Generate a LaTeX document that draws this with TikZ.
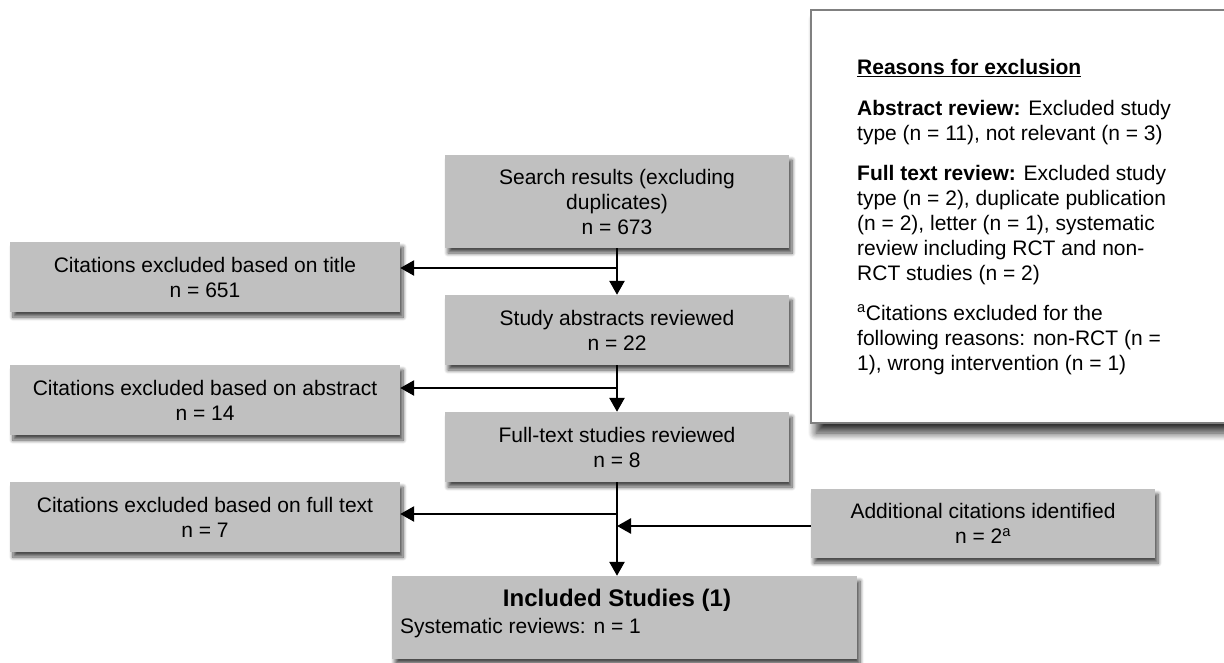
\documentclass[tikz,border=0pt]{standalone}
\usepackage{fontspec}
\setmainfont{Liberation Sans}
\usetikzlibrary{arrows.meta,shadows.blur}
\definecolor{boxgray}{RGB}{192,192,192}
\definecolor{bordergray}{RGB}{128,128,128}
\begin{document}
\begin{tikzpicture}[x=1pt,y=-1pt,
  box/.style={fill=boxgray, draw=none, inner sep=0pt, align=center,
    font=\fontsize{21}{25}\selectfont,
    blur shadow={shadow xshift=3pt, shadow yshift=-5pt, shadow blur radius=4pt, shadow blur steps=8, shadow opacity=70}},
  reasonbox/.style={fill=white, draw=bordergray, line width=2pt, inner sep=0pt,
    blur shadow={shadow xshift=5pt, shadow yshift=-10pt, shadow blur radius=8pt, shadow blur steps=10, shadow opacity=80}},
  txt/.style={inner sep=0pt, font=\fontsize{21}{25}\selectfont},
  arr/.style={line width=2.6pt, -{Triangle[length=14pt,width=15pt]}}
]
\useasboundingbox (0,0) rectangle (1224,662);

% right-hand reasons box
\node[reasonbox, anchor=north west, minimum width=440pt, minimum height=413pt] (rbox) at (810,9) {};
\node[txt, anchor=north west, align=left] (rtext) at (857,58.7) {%
\underline{\textbf{Reasons for exclusion}}\\[16pt]
\textbf{Abstract review:} Excluded study\\
type (n = 11), not relevant (n = 3)\\[15pt]
\textbf{Full text review:} Excluded study\\
type (n = 2), duplicate publication\\
(n = 2), letter (n = 1), systematic\\
review including RCT and non-\\
RCT studies (n = 2)\\[15pt]
\textsuperscript{a}Citations excluded for the\\
following reasons: non-RCT (n =\\
1), wrong intervention (n = 1)};

% main column
\node[box, minimum width=344pt, minimum height=93pt] (search) at (617,201.5)
  {Search results (excluding\\ duplicates)\\ n = 673};
\node[box, minimum width=344pt, minimum height=70pt] (study) at (617,330)
  {Study abstracts reviewed\\ n = 22};
\node[box, minimum width=344pt, minimum height=70pt] (full) at (617,447)
  {Full-text studies reviewed\\ n = 8};
\node[box, minimum width=465pt, minimum height=83pt] (incl) at (624.5,617.5) {};
\node[txt] (inclt) at (617,600) {\fontsize{24}{28}\selectfont\bfseries Included Studies (1)};
\node[txt, anchor=west] (incls) at (400,628) {Systematic reviews: n = 1};

% left column
\node[box, minimum width=390pt, minimum height=70pt] (extitle) at (205,277)
  {Citations excluded based on title\\ n = 651};
\node[box, minimum width=390pt, minimum height=70pt] (exabs) at (205,400)
  {Citations excluded based on abstract\\ n = 14};
\node[box, minimum width=390pt, minimum height=70pt] (exfull) at (205,517)
  {Citations excluded based on full text\\ n = 7};

% right additional
\node[box, minimum width=344pt, minimum height=69pt] (add) at (983,523.5)
  {Additional citations identified\\ n = 2\textsuperscript{a}};

% connectors
\coordinate (j1) at (617,268);
\coordinate (j2) at (617,388);
\coordinate (j3) at (617,514);
\coordinate (j4) at (617,526);
\draw[arr] (search.south) -- (study.north);
\draw[arr] (j1) -- (j1 -| extitle.east);
\draw[arr] (study.south) -- (full.north);
\draw[arr] (j2) -- (j2 -| exabs.east);
\draw[arr] (full.south) -- (full.south |- incl.north);
\draw[arr] (j3) -- (j3 -| exfull.east);
\draw[arr] (add.west |- j4) -- (j4);
\end{tikzpicture}
\end{document}
